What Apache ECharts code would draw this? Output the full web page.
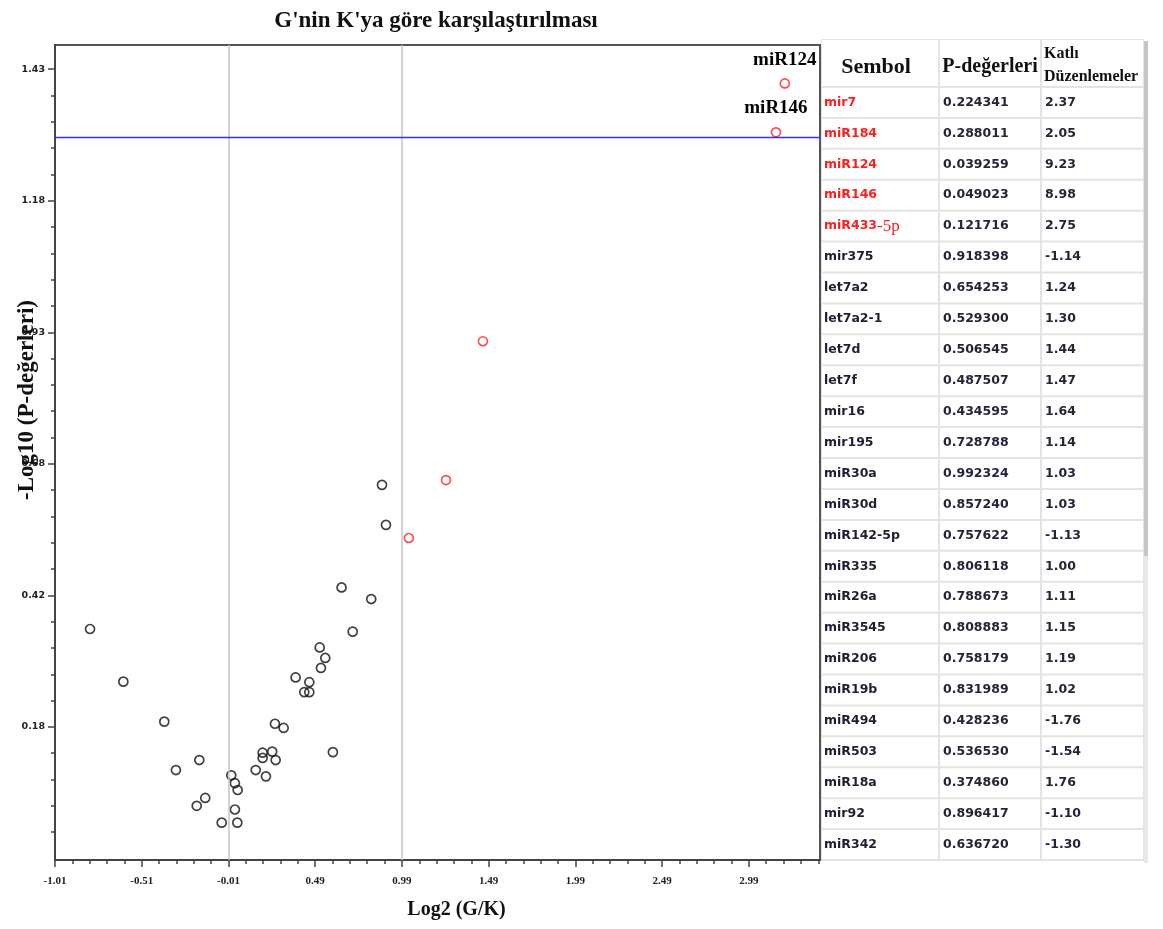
<!DOCTYPE html>
<html>
<head>
<meta charset="utf-8">
<title>G'nin K'ya göre karşılaştırılması</title>
<script src="https://cdn.jsdelivr.net/npm/echarts@6/dist/echarts.min.js"></script>
<style>
    html, body { margin: 0; padding: 0; background: #fff; }
    #chart { width: 1163px; height: 929px; }
</style>
</head>
<body>
<div id="chart"></div>
<script>
    // noktalar: x = Log2 (G/K), y = -Log10 (P)
    var blackX = [-0.808, -0.616, -0.380, -0.313, -0.178, -0.193, -0.144, -0.049, 0.006, 0.027,
                  0.043, 0.027, 0.041, 0.147, 0.206, 0.187, 0.187, 0.242, 0.262, 0.258,
                  0.308, 0.377, 0.427, 0.456, 0.456, 0.516, 0.548, 0.523, 0.592, 0.642,
                  0.706, 0.813, 0.875, 0.898];
    var blackY = [0.366, 0.266, 0.190, 0.098, 0.117, 0.030, 0.045, -0.002, 0.088, 0.073,
                  0.060, 0.023, -0.002, 0.098, 0.086, 0.131, 0.121, 0.133, 0.117, 0.186,
                  0.178, 0.274, 0.246, 0.246, 0.265, 0.331, 0.311, 0.292, 0.132, 0.445,
                  0.361, 0.423, 0.640, 0.564];

    var redNames = ['miR124', 'miR146', 'miR433-5p', 'mir7', 'miR184'];
    var redX = [3.197, 3.146, 1.457, 1.244, 1.030];
    var redY = [1.403, 1.310, 0.913, 0.649, 0.539];
    var labeledNames = ['miR124', 'miR146'];

    // eksen ayarlari
    var xMin = -1.01, xMax = 3.40;
    var yMin = -0.073, yMax = 1.476;
    var xTickValues = [-1.01, -0.51, -0.01, 0.49, 0.99, 1.49, 1.99, 2.49, 2.99];
    var xTickLabels = ['-1.01', '-0.51', '-0.01', '0.49', '0.99', '1.49', '1.99', '2.49', '2.99'];
    var yTickValues = [0.18, 0.43, 0.68, 0.93, 1.18, 1.43];
    var yTickLabels = ['0.18', '0.42', '0.68', '0.93', '1.18', '1.43'];
    var xRefLines = [-0.01, 0.99];
    var pThreshold = 1.301;   // -log10(0.05)

    // tablo
    var tableHeader = ['Sembol', 'P-değerleri', 'Katlı\nDüzenlemeler'];
    var tableSymbols = ['mir7', 'miR184', 'miR124', 'miR146', 'miR433-5p', 'mir375', 'let7a2', 'let7a2-1',
                        'let7d', 'let7f', 'mir16', 'mir195', 'miR30a', 'miR30d', 'miR142-5p', 'miR335',
                        'miR26a', 'miR3545', 'miR206', 'miR19b', 'miR494', 'miR503', 'miR18a', 'mir92', 'miR342'];
    var tablePValues = ['0.224341', '0.288011', '0.039259', '0.049023', '0.121716', '0.918398', '0.654253', '0.529300',
                        '0.506545', '0.487507', '0.434595', '0.728788', '0.992324', '0.857240', '0.757622', '0.806118',
                        '0.788673', '0.808883', '0.758179', '0.831989', '0.428236', '0.536530', '0.374860', '0.896417', '0.636720'];
    var tableFolds = ['2.37', '2.05', '9.23', '8.98', '2.75', '-1.14', '1.24', '1.30',
                      '1.44', '1.47', '1.64', '1.14', '1.03', '1.03', '-1.13', '1.00',
                      '1.11', '1.15', '1.19', '1.02', '-1.76', '-1.54', '1.76', '-1.10', '-1.30'];
    var redRowCount = 5;

    // ara ciziklar (0.1 ve 0.05 adim)
    function minorTicks(start, max, step, majors) {
        var out = [];
        for (var v = start + step; v < max; v += step) {
            var r = Math.round(v * 100) / 100;
            var isMajor = majors.some(function (m) { return Math.abs(m - r) < 1e-6; });
            if (!isMajor) out.push(r);
        }
        return out;
    }
    var xMinorTicks = minorTicks(xMin, xMax, 0.1, xTickValues);
    var yMinorTicks = minorTicks(-0.07, yMax, 0.05, yTickValues);

    function labelFor(values, labels, v) {
        for (var i = 0; i < values.length; i++) {
            if (Math.abs(values[i] - v) < 1e-6) return labels[i];
        }
        return '';
    }

    // tablo grafikleri
    function buildTable() {
        var colX = [821, 939, 1041, 1144];
        var top = 39, headerBottom = 87, rowH = 30.92;
        var bottom = headerBottom + rowH * tableSymbols.length;
        var els = [];
        els.push({type: 'rect', z: 100, shape: {x: colX[0], y: top, width: colX[3] - colX[0], height: bottom - top + 1},
            style: {fill: '#e3e3e3'}});
        els.push({type: 'rect', z: 100, shape: {x: colX[3], y: top + 2, width: 4, height: 515}, style: {fill: '#c6c6c6'}});
        els.push({type: 'rect', z: 100, shape: {x: colX[3], y: top + 517, width: 4, height: bottom - top - 514}, style: {fill: '#e8e8e8'}});

        function cell(c, y0, h) {
            els.push({type: 'rect', z: 101, shape: {x: colX[c] + 1, y: y0 + 1, width: colX[c + 1] - colX[c] - 2, height: h - 2},
                style: {fill: '#fff'}});
        }
        for (var c = 0; c < 3; c++) cell(c, top, headerBottom - top);
        for (var r = 0; r < tableSymbols.length; r++) {
            for (var c2 = 0; c2 < 3; c2++) cell(c2, headerBottom + r * rowH, rowH);
        }

        // baslik
        els.push({type: 'text', z: 102, style: {text: tableHeader[0], x: 876, y: 67, textAlign: 'center', textVerticalAlign: 'middle',
            font: 'bold 22px "Liberation Serif"', fill: '#111'}});
        els.push({type: 'text', z: 102, style: {text: tableHeader[1], x: 990, y: 67, textAlign: 'center', textVerticalAlign: 'middle',
            font: 'bold 20px "Liberation Serif"', fill: '#111'}});
        var h3 = tableHeader[2].split('\n');
        els.push({type: 'text', z: 102, style: {text: h3[0], x: 1044, y: 54, textAlign: 'left', textVerticalAlign: 'middle',
            font: 'bold 16px "Liberation Serif"', fill: '#111'}});
        els.push({type: 'text', z: 102, style: {text: h3[1], x: 1044, y: 77, textAlign: 'left', textVerticalAlign: 'middle',
            font: 'bold 16px "Liberation Serif"', fill: '#111'}});

        var bodyFont = 'bold 12.5px "DejaVu Sans"';
        for (var i = 0; i < tableSymbols.length; i++) {
            var cy = headerBottom + (i + 0.5) * rowH;
            var symColor = i < redRowCount ? '#ff1e1e' : '#1e1e34';
            var sym = tableSymbols[i];
            if (sym === 'miR433-5p') {
                els.push({type: 'text', z: 102, style: {text: '{a|miR433}{b|-5p}', x: 824, y: cy, textAlign: 'left', textVerticalAlign: 'middle',
                    rich: {a: {font: bodyFont, fill: symColor}, b: {font: '17px "Liberation Serif"', fill: symColor}}}});
            } else {
                els.push({type: 'text', z: 102, style: {text: sym, x: 824, y: cy, textAlign: 'left', textVerticalAlign: 'middle',
                    font: bodyFont, fill: symColor}});
            }
            els.push({type: 'text', z: 102, style: {text: tablePValues[i], x: 943, y: cy, textAlign: 'left', textVerticalAlign: 'middle',
                font: bodyFont, fill: '#24243a'}});
            els.push({type: 'text', z: 102, style: {text: tableFolds[i], x: 1045, y: cy, textAlign: 'left', textVerticalAlign: 'middle',
                font: bodyFont, fill: '#24243a'}});
        }
        return els;
    }

    var graphicEls = buildTable();
    graphicEls.push({type: 'text', z: 50, rotation: Math.PI / 2, x: 27, y: 400,
        style: {text: '-Log10 (P-değerleri)', x: 0, y: 0, textAlign: 'center', textVerticalAlign: 'middle',
            font: 'bold 23px "Liberation Serif"', fill: '#111'}});

    var blackData = blackX.map(function (x, i) { return [x, blackY[i]]; });
    var redData = redX.map(function (x, i) {
        var item = {name: redNames[i], value: [x, redY[i]]};
        if (labeledNames.indexOf(redNames[i]) >= 0) item.label = {show: true};
        return item;
    });

    var axisColor = '#444';
    var myChart = echarts.init(document.getElementById('chart'));
    myChart.setOption({
        animation: false,
        title: {
            text: "G'nin K'ya göre karşılaştırılması",
            left: 431, top: 5, textAlign: 'center',
            textStyle: {fontFamily: 'Liberation Serif', fontWeight: 'bold', fontSize: 23, color: '#111'}
        },
        grid: {left: 55, right: 343, top: 45, bottom: 69, show: true, borderColor: '#555', borderWidth: 2,
            outerBoundsMode: 'none'},
        xAxis: [{
            type: 'value', min: xMin, max: xMax, position: 'bottom',
            name: 'Log2 (G/K)', nameLocation: 'middle', nameGap: 40,
            nameTextStyle: {fontFamily: 'Liberation Serif', fontWeight: 'bold', fontSize: 20, color: '#111', padding: [0, 0, 0, 38]},
            axisLine: {onZero: false, lineStyle: {color: axisColor, width: 2}},
            axisTick: {customValues: xTickValues, length: 7, lineStyle: {color: axisColor, width: 1.5}},
            axisLabel: {customValues: xTickValues, margin: 16, color: '#222',
                fontFamily: 'Liberation Serif', fontWeight: 'bold', fontSize: 11,
                formatter: function (v) { return labelFor(xTickValues, xTickLabels, v); }},
            splitLine: {show: false}
        }, {
            type: 'value', min: xMin, max: xMax, position: 'bottom', gridIndex: 0,
            axisLine: {show: false, onZero: false},
            axisTick: {customValues: xMinorTicks, length: 4, lineStyle: {color: axisColor, width: 1.5}},
            axisLabel: {show: false},
            splitLine: {show: false}
        }],
        yAxis: [{
            type: 'value', min: yMin, max: yMax, position: 'left',
            axisLine: {show: true, onZero: false, lineStyle: {color: axisColor, width: 2}},
            axisTick: {show: true, customValues: yTickValues, length: 7, lineStyle: {color: axisColor, width: 1.5}},
            axisLabel: {customValues: yTickValues, margin: 10, color: '#222',
                fontFamily: 'DejaVu Sans', fontWeight: 'bold', fontSize: 9.5,
                formatter: function (v) { return labelFor(yTickValues, yTickLabels, v); }},
            splitLine: {show: false}
        }, {
            type: 'value', min: yMin, max: yMax, position: 'left', gridIndex: 0,
            axisLine: {show: false, onZero: false},
            axisTick: {show: true, customValues: yMinorTicks, length: 4, lineStyle: {color: axisColor, width: 1.5}},
            axisLabel: {show: false},
            splitLine: {show: false}
        }],
        series: [{
            type: 'scatter', name: 'diger', data: blackData,
            symbol: 'circle', symbolSize: 9,
            itemStyle: {color: 'rgba(0,0,0,0)', borderColor: '#111', borderWidth: 1.7},
            markLine: {
                silent: true, symbol: 'none', animation: false, label: {show: false},
                data: [
                    {xAxis: xRefLines[0], lineStyle: {color: '#c4c4c4', width: 1.5, type: 'solid'}},
                    {xAxis: xRefLines[1], lineStyle: {color: '#c4c4c4', width: 1.5, type: 'solid'}},
                    {yAxis: pThreshold, lineStyle: {color: '#2e2eff', width: 1.3, type: 'solid'}}
                ]
            }
        }, {
            type: 'scatter', name: 'anlamli', data: redData,
            symbol: 'circle', symbolSize: 9,
            itemStyle: {color: 'rgba(0,0,0,0)', borderColor: '#ff1e1e', borderWidth: 1.6},
            label: {show: false, position: 'top', distance: 9, formatter: '{b}',
                fontFamily: 'Liberation Serif', fontWeight: 'bold', fontSize: 19, color: '#000',
                textBorderWidth: 0, opacity: 1},
            emphasis: {disabled: true}
        }],
        graphic: graphicEls
    });
</script>
</body>
</html>
